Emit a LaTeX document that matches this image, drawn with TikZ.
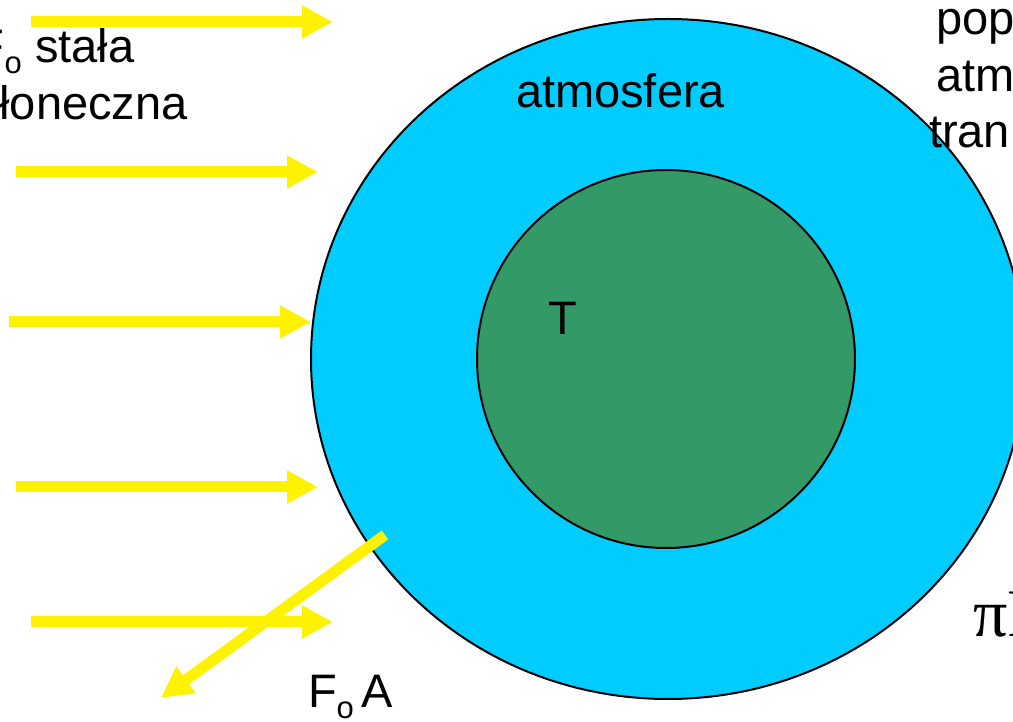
\documentclass[tikz,border=0pt]{standalone}
\usepackage{fontspec}
\setmainfont{Liberation Sans}
\newfontfamily\serifpi{Liberation Serif}
\usetikzlibrary{arrows.meta,shapes.geometric}
\tikzset{
  ray/.style={draw=yellow, line width=11pt, -{Triangle[length=31pt,width=31pt]}},
  lbl/.style={inner sep=0pt, outer sep=0pt, anchor=base west, font=\fontsize{47}{56}\selectfont},
}
\newcommand{\subo}{\raisebox{-11pt}{\fontsize{31}{31}\selectfont o}}
\definecolor{atmcol}{RGB}{0,204,255}
\definecolor{earthcol}{RGB}{51,153,102}
\begin{document}
\begin{tikzpicture}[x=1pt,y=1pt]
\useasboundingbox (0,0) rectangle (1013,721);
\clip (0,0) rectangle (1013,721);
% atmosphere and planet
\node[ellipse, draw=black, line width=2pt, fill=atmcol, minimum width=714pt, minimum height=680pt, inner sep=0pt] (atm) at (668,362) {};
\node[circle, draw=black, line width=2pt, fill=earthcol, minimum size=378pt, inner sep=0pt] (earth) at (666,362) {};
% labels
\node[lbl] (fo1) at (-24,658) {F\subo\ stała};
\node[lbl] (fo2) at (-24,601) {słoneczna};
\node[lbl] (atmlbl) at (516,613) {atmosfera};
\node[lbl] (tlbl) at (548,386) {T};
\node[lbl] (r1) at (936,686) {pop};
\node[lbl] (r2) at (936,629) {atm};
\node[lbl] (r3) at (929,573) {tran};
\node[lbl] (foa) at (308,13) {F\subo\,A};
\node[inner sep=0pt, anchor=base west, font=\serifpi\fontsize{68}{72}\selectfont] (pir) at (973,84) {πR};
% incoming rays
\coordinate (s1) at (31,699); \coordinate (e1) at (333,699);
\coordinate (s2) at (16,549); \coordinate (e2) at (318,549);
\coordinate (s3) at (9,399);  \coordinate (e3) at (311,399);
\coordinate (s4) at (16,234); \coordinate (e4) at (318,234);
\coordinate (s5) at (31,99);  \coordinate (e5) at (333,99);
\draw[ray] (s1) -- (e1);
\draw[ray] (s2) -- (e2);
\draw[ray] (s3) -- (e3);
\draw[ray] (s4) -- (e4);
\draw[ray] (s5) -- (e5);
% reflected ray
\coordinate (rs) at (385,186); \coordinate (re) at (161,23);
\draw[ray] (rs) -- (re);
\end{tikzpicture}
\end{document}
